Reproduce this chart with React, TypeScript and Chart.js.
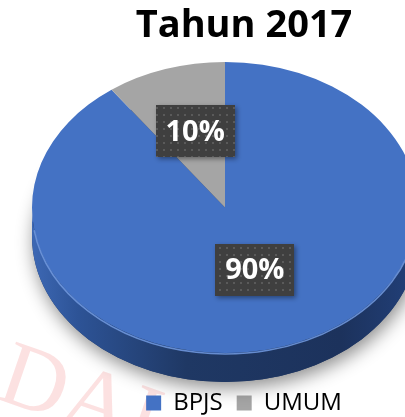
import React, { useEffect, useRef } from 'react';
import { Chart, registerables } from 'chart.js';

Chart.register(...registerables);

// ---- data ----
const categories: string[] = ['BPJS', 'UMUM'];
const values: number[] = [90, 10];
const percentLabels: string[] = ['90%', '10%'];
const sliceColors: string[] = ['#4472C4', '#A5A5A5'];
const titleText = 'Tahun 2017';
const watermarkText = 'DAI';

// ---- 3D projection / styling ----
const PROJ = { cx: 225, cy: 207.5, rx: 193, ry: 145.5, depth: 29, labelShiftY: -7 };

function getBase(chart: any) {
  const meta = chart.getDatasetMeta(0);
  const el: any = meta.data[0];
  if (!el) return null;
  const p = el.getProps(['x', 'y', 'outerRadius'], true);
  return { x: p.x, y: p.y, r: p.outerRadius, sx: PROJ.rx / p.outerRadius, sy: PROJ.ry / p.outerRadius, meta };
}

let patternCache: CanvasPattern | null = null;
function getPattern(ctx: CanvasRenderingContext2D) {
  if (patternCache) return patternCache;
  const c = document.createElement('canvas');
  c.width = 7;
  c.height = 7;
  const g = c.getContext('2d')!;
  g.fillStyle = '#3f3f3f';
  g.fillRect(0, 0, 7, 7);
  g.fillStyle = '#5a5a5a';
  g.fillRect(2, 2, 2, 2);
  patternCache = ctx.createPattern(c, 'repeat');
  return patternCache;
}

const watermarkPlugin = {
  id: 'watermark',
  beforeDraw(chart: any) {
    const ctx = chart.ctx as CanvasRenderingContext2D;
    ctx.save();
    ctx.translate(-6, 398);
    ctx.rotate(0.33);
    ctx.font = '92px "Liberation Serif"';
    ctx.fillStyle = 'rgba(240, 120, 120, 0.22)';
    ctx.textBaseline = 'alphabetic';
    ctx.fillText(watermarkText, 0, 0);
    ctx.restore();
  },
};

const tiltPlugin = {
  id: 'tilt3d',
  beforeDatasetsDraw(chart: any) {
    const ctx = chart.ctx as CanvasRenderingContext2D;
    const b = getBase(chart);
    if (!b) return;
    const { cx, cy, rx, ry, depth } = PROJ;
    // shadow under the pie body
    ctx.save();
    ctx.shadowColor = 'rgba(0,0,0,0.45)';
    ctx.shadowBlur = 18;
    ctx.shadowOffsetX = 2;
    ctx.shadowOffsetY = 6;
    ctx.fillStyle = '#1f3864';
    ctx.beginPath();
    ctx.ellipse(cx, cy + depth, rx, ry, 0, 0, Math.PI * 2);
    ctx.fill();
    ctx.restore();
    // side walls for the front-facing part of each slice
    b.meta.data.forEach((el: any, i: number) => {
      const p = el.getProps(['startAngle', 'endAngle'], true);
      const ranges: [number, number][] = [];
      for (const off of [0, Math.PI * 2, -Math.PI * 2]) {
        const a = Math.max(p.startAngle, off);
        const e = Math.min(p.endAngle, off + Math.PI);
        if (e > a) ranges.push([a - off, e - off]);
      }
      ranges.forEach(([a, e]) => {
        const grad = ctx.createLinearGradient(cx - rx, 0, cx + rx, 0);
        if (i === 0) {
          grad.addColorStop(0, '#3d68b4');
          grad.addColorStop(0.12, '#2d5396');
          grad.addColorStop(0.4, '#1f3864');
          grad.addColorStop(0.8, '#1c325c');
          grad.addColorStop(1, '#22407a');
        } else {
          grad.addColorStop(0, '#8a8a8a');
          grad.addColorStop(1, '#5e5e5e');
        }
        ctx.save();
        ctx.fillStyle = grad;
        ctx.beginPath();
        ctx.ellipse(cx, cy + depth, rx, ry, 0, a, e);
        ctx.ellipse(cx, cy, rx, ry, 0, e, a, true);
        ctx.closePath();
        ctx.fill();
        ctx.restore();
      });
    });
    // project the pie face into the tilted ellipse
    ctx.save();
    ctx.translate(cx, cy);
    ctx.scale(b.sx, b.sy);
    ctx.translate(-b.x, -b.y);
  },
  afterDatasetsDraw(chart: any) {
    const ctx = chart.ctx as CanvasRenderingContext2D;
    const b = getBase(chart);
    if (!b) return;
    ctx.restore();
    const { cx, cy, rx, ry } = PROJ;
    // bevel highlight on the front rim
    ctx.save();
    ctx.strokeStyle = 'rgba(110,150,220,0.9)';
    ctx.lineWidth = 1.5;
    ctx.beginPath();
    ctx.ellipse(cx, cy + 1, rx, ry, 0, 0.15, Math.PI - 0.15);
    ctx.stroke();
    ctx.restore();
    // data labels
    b.meta.data.forEach((el: any, i: number) => {
      const pos = el.tooltipPosition(true);
      const X = cx + (pos.x - b.x) * b.sx;
      const Y = cy + (pos.y - b.y) * b.sy + PROJ.labelShiftY;
      const w = 79;
      const h = 52;
      ctx.save();
      ctx.shadowColor = 'rgba(0,0,0,0.4)';
      ctx.shadowBlur = 5;
      ctx.shadowOffsetX = 2;
      ctx.shadowOffsetY = 2;
      ctx.fillStyle = getPattern(ctx) || '#404040';
      ctx.fillRect(Math.round(X - w / 2), Math.round(Y - h / 2), w, h);
      ctx.restore();
      ctx.save();
      ctx.fillStyle = '#ffffff';
      ctx.font = 'bold 29px "Open Sans"';
      ctx.textAlign = 'center';
      ctx.textBaseline = 'middle';
      ctx.fillText(percentLabels[i], X, Y + 1);
      ctx.restore();
    });
  },
};

export default function App() {
  const ref = useRef<HTMLCanvasElement | null>(null);
  useEffect(() => {
    if (!ref.current) return;
    const chart = new Chart(ref.current, {
      type: 'pie',
      data: {
        labels: categories,
        datasets: [
          {
            data: values,
            backgroundColor: sliceColors,
            borderWidth: 0,
            clip: false as any,
          },
        ],
      },
      options: {
        animation: false,
        responsive: false,
        maintainAspectRatio: false,
        events: [],
        layout: { padding: { top: 0, bottom: -8, left: 0, right: 0 } },
        plugins: {
          title: {
            display: true,
            text: titleText,
            color: '#000000',
            font: { family: 'Open Sans', size: 38, weight: 'bold' },
            padding: { top: 3, bottom: 10 },
          },
          legend: {
            display: true,
            position: 'bottom',
            labels: {
              color: '#000000',
              boxWidth: 15,
              boxHeight: 15,
              padding: 14,
              font: { family: 'Open Sans', size: 24 },
            },
          },
          tooltip: { enabled: false },
        },
      },
      plugins: [watermarkPlugin, tiltPlugin],
    });
    return () => chart.destroy();
  }, []);
  return (
    <div style={{ position: 'fixed', left: 0, top: 0, width: 405, height: 417, overflow: 'hidden', background: '#ffffff' }}>
      <canvas ref={ref} width={488} height={417} style={{ width: 488, height: 417, display: 'block' }} />
    </div>
  );
}
